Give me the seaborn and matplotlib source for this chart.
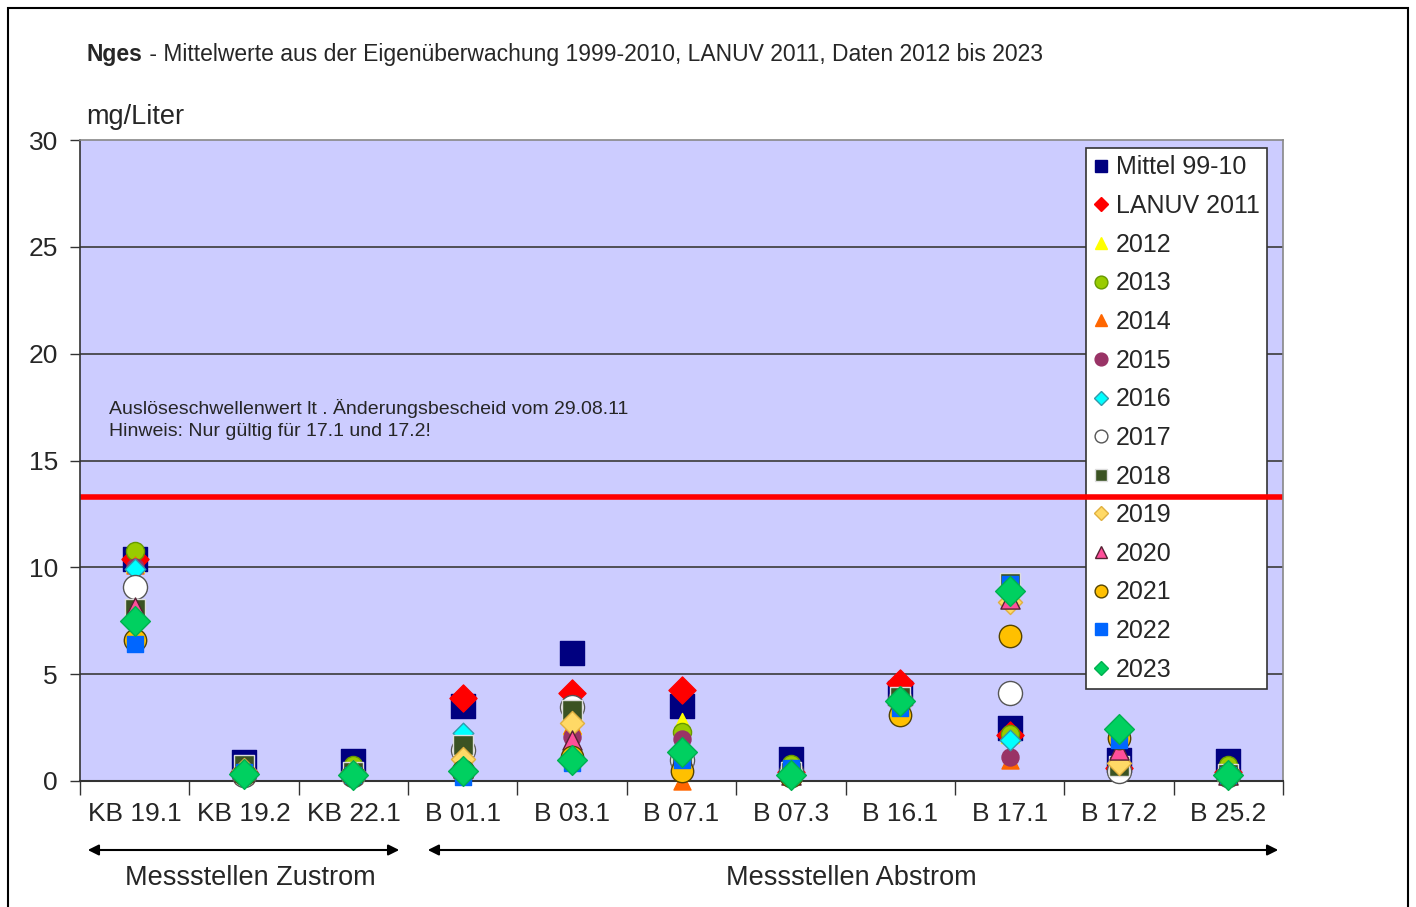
import matplotlib
matplotlib.use("Agg")
import matplotlib.pyplot as plt
import seaborn as sns
import pandas as pd
import numpy as np
from matplotlib.lines import Line2D
from matplotlib.patches import Rectangle, FancyArrowPatch

sns.set_theme(style="white")
plt.rcParams['font.family'] = ['Liberation Sans', 'DejaVu Sans']

stations = ["KB 19.1", "KB 19.2", "KB 22.1", "B 01.1", "B 03.1", "B 07.1",
            "B 07.3", "B 16.1", "B 17.1", "B 17.2", "B 25.2"]

series_names = ["Mittel 99-10", "LANUV 2011", "2012", "2013", "2014", "2015", "2016",
                "2017", "2018", "2019", "2020", "2021", "2022", "2023"]

mittel_99_10 = [10.4, 0.9, 0.95, 3.5, 6.0, 3.5, 1.05, 4.1, 2.5, 1.0, 0.95]
lanuv_2011 = [10.4, 0.4, 0.35, 3.9, 4.1, 4.25, 0.4, 4.6, 2.15, 0.6, 0.4]
y2012 = [10.2, 0.4, 0.4, 1.3, 2.6, 2.75, 0.4, 3.8, 2.2, 0.6, 0.4]
y2013 = [10.75, 0.5, 0.75, 0.6, 1.2, 2.3, 0.8, 4.0, 2.2, 0.9, 0.75]
y2014 = [10.1, 0.3, 0.3, 0.5, 2.6, 0.0, 0.3, 3.5, 1.0, 0.5, 0.3]
y2015 = [10.0, 0.3, 0.3, 0.5, 2.05, 1.95, 0.3, 3.5, 1.1, 0.5, 0.2]
y2016 = [9.9, 0.4, 0.3, 2.25, 1.2, 1.3, 0.4, 3.8, 1.9, 0.6, 0.3]
y2017 = [9.1, 0.3, 0.3, 1.45, 3.45, 1.0, 0.4, 3.8, 4.1, 0.45, 0.3]
y2018 = [8.05, 0.75, 0.4, 1.7, 3.3, 1.0, 0.4, 3.95, 9.25, 0.7, 0.35]
y2019 = [7.4, 0.5, 0.4, 1.05, 2.7, 1.3, 0.3, 3.6, 8.4, 0.85, 0.3]
y2020 = [8.15, 0.4, 0.4, 0.6, 1.9, 1.2, 0.3, 3.6, 8.5, 1.45, 0.3]
y2021 = [6.6, 0.35, 0.3, 0.45, 1.1, 0.45, 0.25, 3.1, 6.8, 2.0, 0.3]
y2022 = [6.4, 0.4, 0.3, 0.2, 0.85, 1.0, 0.6, 3.4, 9.2, 1.9, 0.3]
y2023 = [7.5, 0.35, 0.3, 0.45, 1.0, 1.35, 0.3, 3.75, 8.9, 2.45, 0.3]

threshold = 13.3

values = [mittel_99_10, lanuv_2011, y2012, y2013, y2014, y2015, y2016,
          y2017, y2018, y2019, y2020, y2021, y2022, y2023]

styles = {
    "Mittel 99-10": dict(marker="s", color="#000080", edge="#000080", s=300, ms=8),
    "LANUV 2011":   dict(marker="D", color="#FF0000", edge="#FF0000", s=190, ms=6.5),
    "2012":         dict(marker="^", color="#FFFF00", edge="#FFFF00", s=170, ms=8),
    "2013":         dict(marker="o", color="#99CC00", edge="#669900", s=170, ms=8),
    "2014":         dict(marker="^", color="#FF6600", edge="#FF6600", s=150, ms=8),
    "2015":         dict(marker="o", color="#993366", edge="#993366", s=150, ms=8),
    "2016":         dict(marker="D", color="#00FFFF", edge="#3399AA", s=110, ms=6.5),
    "2017":         dict(marker="o", color="#FFFFFF", edge="#555555", s=300, ms=8),
    "2018":         dict(marker="s", color="#3B5323", edge="#DDDDDD", s=200, ms=8),
    "2019":         dict(marker="D", color="#FFD966", edge="#E0B040", s=150, ms=6.5),
    "2020":         dict(marker="^", color="#FF4F9A", edge="#552233", s=190, ms=8),
    "2021":         dict(marker="o", color="#FFC000", edge="#554400", s=260, ms=8),
    "2022":         dict(marker="s", color="#0066FF", edge="#0066FF", s=130, ms=8),
    "2023":         dict(marker="D", color="#00D060", edge="#00B050", s=230, ms=6.5),
}

rows = []
for name, vals in zip(series_names, values):
    for i, v in enumerate(vals):
        rows.append(dict(series=name, pos=i, value=v))
df = pd.DataFrame(rows)

W, H = 1416, 907
fig = plt.figure(figsize=(W / 100, H / 100), dpi=100)
fig.patch.set_facecolor("white")

ax = fig.add_axes([80 / W, 1 - 781 / H, (1283 - 80) / W, (781 - 140) / H])
ax.set_facecolor("#CCCCFF")

for y in [5, 10, 15, 20, 25]:
    ax.axhline(y, color="#3a3a3a", lw=1.2, zorder=1)

ax.axhline(threshold, color="#FF0000", lw=4, zorder=2, xmax=1.0)

for name in series_names:
    st = styles[name]
    sub = df[df.series == name]
    sns.scatterplot(data=sub, x="pos", y="value", ax=ax, marker=st["marker"],
                    color=st["color"], edgecolor=st["edge"], linewidth=1.0,
                    s=st["s"], zorder=3, clip_on=False, legend=False)

ax.set_xlim(-0.5, len(stations) - 0.5)
ax.set_ylim(0, 30)
ax.set_xlabel("")
ax.set_ylabel("")

ax.set_xticks(np.arange(-0.5, len(stations), 1.0))
ax.set_xticklabels([])
ax.set_xticks(np.arange(len(stations)), minor=True)
ax.set_xticklabels(stations, minor=True, fontsize=19)
ax.tick_params(axis="x", which="major", direction="out", length=10, width=1, color="#333333", bottom=True)
ax.tick_params(axis="x", which="minor", length=0, pad=15)
ax.set_yticks([0, 5, 10, 15, 20, 25, 30])
ax.set_yticklabels(["0", "5", "10", "15", "20", "25", "30"], fontsize=19)
ax.tick_params(axis="y", direction="out", length=7, width=1, color="#333333", left=True, pad=9)

for side in ["top", "right"]:
    ax.spines[side].set_color("#888888")
    ax.spines[side].set_linewidth(1.2)
ax.spines["left"].set_color("#333333")
ax.spines["bottom"].set_color("#333333")
ax.spines["left"].set_linewidth(1.2)
ax.spines["bottom"].set_linewidth(1.5)

# Outer frame
fig.add_artist(Rectangle((8 / W, -0.01), (1408 - 8) / W, 1 - 8 / H + 0.01,
                         transform=fig.transFigure, fill=False, lw=1.5,
                         edgecolor="#000000"))

# Title
renderer = fig.canvas.get_renderer()
t1 = fig.text(87 / W, 1 - 54 / H, "Nges", fontsize=16.5, fontweight="bold", va="center", ha="left")
bb = t1.get_window_extent(renderer=renderer)
fig.text(bb.x1 / W, 1 - 54 / H,
         " - Mittelwerte aus der Eigenüberwachung 1999-2010, LANUV 2011, Daten 2012 bis 2023",
         fontsize=16.5, va="center", ha="left")

fig.text(86 / W, 1 - 117 / H, "mg/Liter", fontsize=19.5, va="center", ha="left")

fig.text(109 / W, 1 - 408 / H, "Auslöseschwellenwert lt . Änderungsbescheid vom 29.08.11",
         fontsize=14, va="center", ha="left")
fig.text(109 / W, 1 - 431 / H, "Hinweis: Nur gültig für 17.1 und 17.2!",
         fontsize=14, va="center", ha="left")

# Arrows
for x0, x1 in [(85, 402), (425, 1281)]:
    fig.add_artist(FancyArrowPatch((x0 / W, 1 - 850 / H), (x1 / W, 1 - 850 / H),
                                   transform=fig.transFigure, arrowstyle="<|-|>",
                                   mutation_scale=16, lw=1.5, color="black"))
fig.text(250 / W, 1 - 878 / H, "Messstellen Zustrom", fontsize=19.5, ha="center", va="center")
fig.text(851 / W, 1 - 878 / H, "Messstellen Abstrom", fontsize=19.5, ha="center", va="center")

# Legend (inside axes so the threshold line draws over it, gridlines under it)
handles = []
for name in series_names:
    st = styles[name]
    handles.append(Line2D([], [], linestyle="none", marker=st["marker"], markersize=st["ms"] * 1.15,
                          markerfacecolor=st["color"], markeredgecolor=st["edge"], markeredgewidth=1.0))
leg = ax.legend(handles, series_names, loc="upper left",
                bbox_to_anchor=(1086 / W, 1 - 148 / H), bbox_transform=fig.transFigure,
                fontsize=18, frameon=True, fancybox=False, edgecolor="#333333",
                framealpha=1, handlelength=0.6, handletextpad=0.3, labelspacing=0.585,
                borderpad=0.3, borderaxespad=0)
leg.get_frame().set_linewidth(1.2)
leg.set_zorder(1.5)

fig.savefig("out.png", dpi=100)
